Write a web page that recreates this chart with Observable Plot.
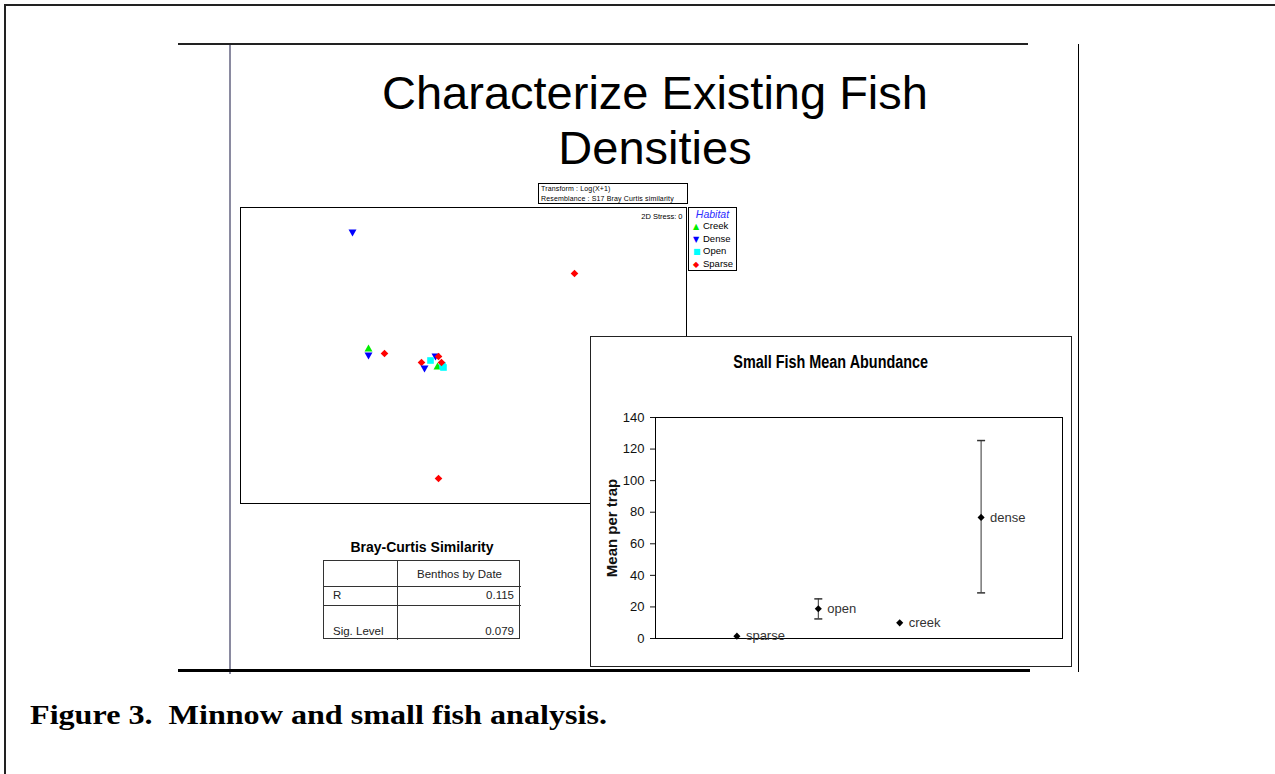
<!DOCTYPE html>
<html><head><meta charset="utf-8">
<script src="https://cdn.jsdelivr.net/npm/d3@7"></script>
<script src="https://cdn.jsdelivr.net/npm/@observablehq/plot@0.6"></script>
<style>
html,body{margin:0;padding:0;background:#fff;}
#page{position:relative;width:1275px;height:774px;overflow:hidden;font-family:"Liberation Sans",Arial,sans-serif;color:#000;}
.abs{position:absolute;}
.line{position:absolute;}
#title{left:230px;top:65px;width:850px;text-align:center;font-size:47px;line-height:55px;}
#transform{left:538px;top:183px;width:146px;height:19px;border:1px solid #000;font-size:7px;line-height:9.5px;padding-left:2px;letter-spacing:0.15px;white-space:nowrap;overflow:visible;background:#fff;}
#legend{left:688px;top:207px;width:47px;height:62px;border:1px solid #000;background:#fff;font-size:9.5px;}
#legend .hd{color:#2b2bff;font-style:italic;font-size:10.5px;text-align:center;line-height:12px;margin-top:0px;}
#legend .it{height:12.7px;line-height:12.7px;white-space:nowrap;padding-left:4px;}
#legend .sym{display:inline-block;width:10px;font-family:"DejaVu Sans";font-size:8px;}
#inset{left:590px;top:336px;width:480px;height:329px;border:1px solid #222;background:#fff;}
#insetTitle{left:590px;top:351px;width:482px;text-align:center;font-weight:bold;font-size:18px;line-height:22px;}
#insetTitle span{display:inline-block;transform:scaleX(0.8);transform-origin:center;white-space:nowrap;}
#tblTitle{left:323px;top:539px;width:198px;text-align:center;font-weight:bold;font-size:14px;line-height:16px;}
#caption{left:30px;top:703px;font-family:"Liberation Serif","Times New Roman",serif;font-weight:bold;font-size:27px;line-height:25px;white-space:pre;}
#caption span{display:inline-block;transform:scaleX(1.19);transform-origin:left center;white-space:pre;}
</style></head><body><div id="page"></div>
<script>
// ---------- data ----------
const chartTitle = ["Characterize Existing Fish", "Densities"];
const transformLines = ["Transform : Log(X+1)", "Resemblance : S17 Bray Curtis similarity"];
const stressLabel = "2D Stress: 0";
const legendTitle = "Habitat";
const habitats = ["Creek", "Dense", "Open", "Sparse"];
const habitatColors = ["#00ee00", "#0000ff", "#00ffff", "#ff0000"];
const habitatGlyphs = ["\u25B2", "\u25BC", "\u25A0", "\u25C6"];
// nMDS sample coordinates (arbitrary MDS units)
const mdsHabitat = ["Dense", "Creek", "Dense", "Creek", "Dense", "Sparse", "Sparse", "Dense", "Open", "Open", "Open", "Sparse", "Sparse", "Sparse", "Sparse"];
const mdsX = [-0.28, -0.26, -1.11, -0.95, -0.95, -0.79, -0.42, -0.39, -0.33, -0.21, -0.20, -0.25, -0.22, 1.11, -0.25];
const mdsY = [-0.01, -0.11, 1.23, 0.07, 0.00, 0.02, -0.07, -0.13, -0.05, -0.10, -0.12, -0.01, -0.07, 0.82, -1.23];

const insetTitle = "Small Fish Mean Abundance";
const insetYLabel = "Mean per trap";
const fishCategories = ["sparse", "open", "creek", "dense"];
const fishMean = [1.5, 18.8, 9.9, 76.7];
const fishLow = [null, 12.4, null, 28.9];
const fishHigh = [null, 25.1, null, 125.4];
const yTicks = [0, 20, 40, 60, 80, 100, 120, 140];

const tableTitle = "Bray-Curtis Similarity";
const tableColumn = "Benthos by Date";
const tableRowLabels = ["R", "Sig. Level"];
const tableValues = ["0.115", "0.079"];

const captionText = "Figure 3.  Minnow and small fish analysis.";

// ---------- helpers ----------
const page = document.getElementById("page");
function el(tag, cls, id, css, text) {
  const e = document.createElement(tag);
  if (cls) e.className = cls;
  if (id) e.id = id;
  if (css) e.style.cssText = css;
  if (text != null) e.textContent = text;
  page.appendChild(e);
  return e;
}
// frame lines
el("div", "line", null, "left:4px;top:4px;width:1271px;height:2px;background:#222;");
el("div", "line", null, "left:4px;top:4px;width:2px;height:770px;background:#222;");
el("div", "line", null, "left:178px;top:43px;width:850px;height:2px;background:#222;");
el("div", "line", null, "left:229px;top:45px;width:2px;height:629px;background:#8a8aa0;");
el("div", "line", null, "left:1078px;top:44px;width:1px;height:628px;background:#000;");
el("div", "line", null, "left:178px;top:669px;width:852px;height:3px;background:#000;");

// title
const t = el("div", "abs", "title");
t.innerHTML = chartTitle.join("<br>");

// transform box
const tb = el("div", "abs", "transform");
tb.innerHTML = transformLines.join("<br>");

// ---------- MDS plot ----------
const triUp = {draw(c){c.moveTo(0,-4);c.lineTo(4,3);c.lineTo(-4,3);c.closePath();}};
const triDown = {draw(c){c.moveTo(0,4);c.lineTo(4,-3);c.lineTo(-4,-3);c.closePath();}};
const sq = {draw(c){c.rect(-3.3,-3.3,6.6,6.6);}};
const dia = {draw(c){c.moveTo(0,-3.8);c.lineTo(3.8,0);c.lineTo(0,3.8);c.lineTo(-3.8,0);c.closePath();}};
const idx = mdsX.map((_, i) => i);
const mds = Plot.plot({
  width: 448, height: 298, margin: 1,
  x: {domain: [-2.23, 2.23], axis: null},
  y: {domain: [-1.48, 1.48], axis: null},
  symbol: {domain: habitats, range: [triUp, triDown, sq, dia]},
  color: {domain: habitats, range: habitatColors},
  style: {background: "transparent", overflow: "visible", fontFamily: "Liberation Sans, Arial, sans-serif"},
  marks: [
    Plot.frame({stroke: "#000", fill: "#fff"}),
    Plot.dot(idx, {x: i => mdsX[i], y: i => mdsY[i], symbol: i => mdsHabitat[i], fill: i => mdsHabitat[i], r: 4}),
    Plot.text([stressLabel], {frameAnchor: "top-right", dx: -4, dy: 6, fontSize: 7.5, fill: "#000"})
  ]
});
mds.style.position = "absolute"; mds.style.left = "239px"; mds.style.top = "206px";
page.appendChild(mds);

// legend
const lg = el("div", "abs", "legend");
const hd = document.createElement("div"); hd.className = "hd"; hd.textContent = legendTitle; lg.appendChild(hd);
habitats.forEach((h, i) => {
  const it = document.createElement("div"); it.className = "it";
  const s = document.createElement("span"); s.className = "sym"; s.style.color = habitatColors[i]; s.textContent = habitatGlyphs[i];
  it.appendChild(s); it.appendChild(document.createTextNode(h));
  lg.appendChild(it);
});

// ---------- table ----------
el("div", "abs", "tblTitle", null, tableTitle);
const colX = [323, 397, 520];
const rowY = [560, 586, 605, 639];
const tbl = el("div", "abs", null, `left:${colX[0]}px;top:${rowY[0]}px;width:${colX[2]-colX[0]}px;height:${rowY[3]-rowY[0]}px;border:1px solid #333;box-sizing:border-box;font-size:11.5px;color:#222;`);
function cell(x0, x1, y0, y1, text, align, valign, borders) {
  const c = document.createElement("div");
  c.style.cssText = `position:absolute;left:${x0-colX[0]}px;top:${y0-rowY[0]}px;width:${x1-x0}px;height:${y1-y0}px;box-sizing:border-box;display:flex;align-items:${valign};justify-content:${align};padding:0 7px 3px 9px;${borders}`;
  c.textContent = text;
  tbl.appendChild(c);
}
cell(colX[0], colX[1], rowY[0], rowY[1], "", "flex-start", "center", "border-right:1px solid #333;border-bottom:1px solid #333;");
cell(colX[1], colX[2], rowY[0], rowY[1], tableColumn, "center", "center", "border-bottom:1px solid #333;padding:0;");
tableRowLabels.forEach((r, i) => {
  const last = i === tableRowLabels.length - 1;
  const bb = last ? "" : "border-bottom:1px solid #333;";
  cell(colX[0], colX[1], rowY[i+1], rowY[i+2], r, "flex-start", last ? "flex-end" : "center", "border-right:1px solid #333;" + bb);
  cell(colX[1], colX[2], rowY[i+1], rowY[i+2], tableValues[i], "flex-end", last ? "flex-end" : "center", bb);
});

// ---------- inset ----------
el("div", "abs", "inset");
const it = el("div", "abs", "insetTitle");
const its = document.createElement("span"); its.textContent = insetTitle; it.appendChild(its);
const fishData = fishCategories.map((c, i) => ({cat: c, pos: i + 1, mean: fishMean[i], lo: fishLow[i], hi: fishHigh[i]}));
const errData = fishData.filter(d => d.lo != null);
const cap = {draw(c){c.moveTo(-4,0);c.lineTo(4,0);}};
const inset = Plot.plot({
  width: 482, height: 331, marginLeft: 65, marginRight: 10, marginTop: 81, marginBottom: 29,
  x: {domain: [0, 5], axis: null},
  y: {domain: [0, 140], axis: null},
  style: {background: "transparent", overflow: "visible", fontFamily: "Liberation Sans, Arial, sans-serif", color: "#111"},
  marks: [
    Plot.frame({stroke: "#000"}),
    Plot.axisY({ticks: yTicks, tickSize: 5, tickPadding: 6, fontSize: 13, label: null}),
    Plot.ruleX(errData, {x: "pos", y1: "lo", y2: "hi", stroke: "#333", strokeWidth: 1}),
    Plot.dot(errData, {x: "pos", y: "hi", symbol: cap, fill: "none", stroke: "#333"}),
    Plot.dot(errData, {x: "pos", y: "lo", symbol: cap, fill: "none", stroke: "#333"}),
    Plot.dot(fishData, {x: "pos", y: "mean", symbol: "diamond2", r: 3.2, fill: "#000"}),
    Plot.text(fishData, {x: "pos", y: "mean", text: "cat", dx: 9, textAnchor: "start", fontSize: 13, fill: "#333"}),
    Plot.text([insetYLabel], {frameAnchor: "left", rotate: -90, dx: -43, textAnchor: "middle", fontWeight: "bold", fontSize: 15, fill: "#111"})
  ]
});
inset.style.position = "absolute"; inset.style.left = "590px"; inset.style.top = "336px";
page.appendChild(inset);

// caption
const cp = el("div", "abs", "caption");
const cps = document.createElement("span"); cps.textContent = captionText; cp.appendChild(cps);
</script>
</body></html>
